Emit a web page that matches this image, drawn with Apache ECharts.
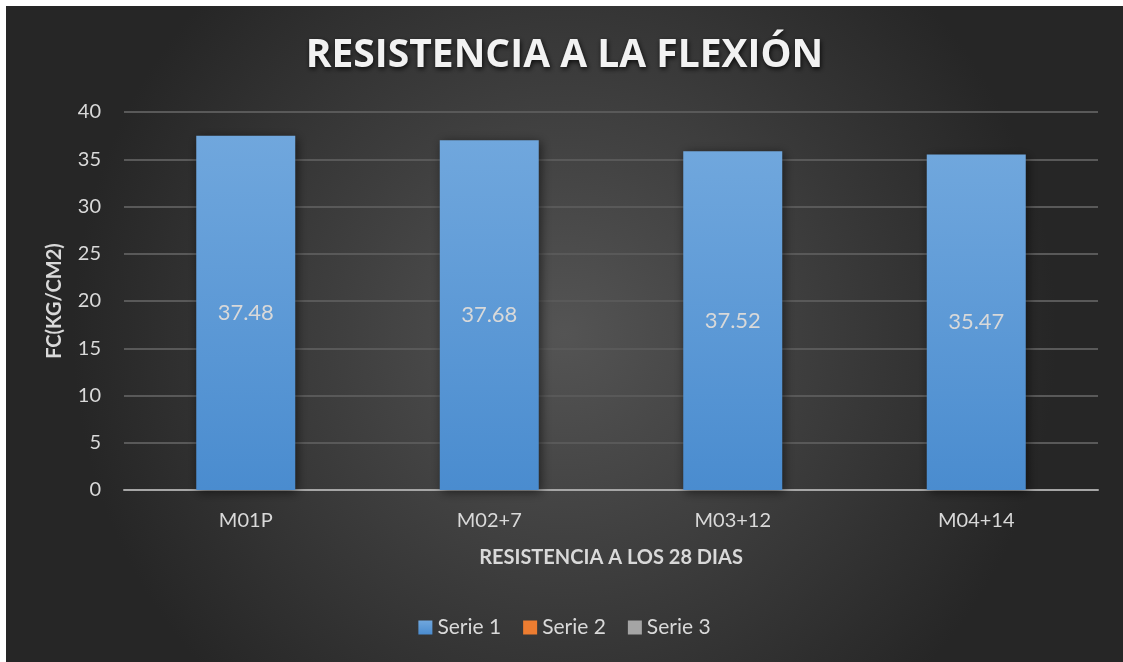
<!DOCTYPE html>
<html>
<head>
    <meta charset="utf-8">
    <script src="https://cdn.jsdelivr.net/npm/echarts@6/dist/echarts.min.js"></script>
    <style>
        html, body { margin: 0; padding: 0; background: #fff; }
        #main { position: absolute; left: 6px; top: 6px; width: 1117px; height: 656px; }
    </style>
</head>
<body>
<div id="main"></div>
<script type="text/javascript">
    // datos
    var categorias = ['M01P', 'M02+7', 'M03+12', 'M04+14'];
    var serie1 = [37.48, 37.0, 35.85, 35.5];
    var etiquetas = ['37.48', '37.68', '37.52', '35.47'];
    var serie2 = [];
    var serie3 = [];

    var textoClaro = '#d9d9d9';
    var myChart = echarts.init(document.getElementById('main'));

    var opt = {
        backgroundColor: {
            type: 'radial', x: 0.5, y: 0.5, r: 0.75,
            colorStops: [
                {offset: 0, color: '#545454'},
                {offset: 1, color: '#262626'}
            ]
        },
        title: {
            text: 'RESISTENCIA A LA FLEXIÓN',
            left: 'center',
            top: 25,
            textStyle: {
                fontFamily: 'Open Sans',
                fontWeight: 'bold',
                fontSize: 39,
                color: '#f2f2f2',
                textShadowColor: 'rgba(0,0,0,0.8)',
                textShadowBlur: 5,
                textShadowOffsetX: 1,
                textShadowOffsetY: 2
            }
        },
        legend: {
            bottom: 19,
            left: 'center',
            itemWidth: 14,
            itemHeight: 14,
            itemGap: 22,
            itemTextGap: 6,
            icon: 'rect',
            textStyle: {fontFamily: 'Lato', fontSize: 21, color: textoClaro},
            data: ['Serie 1', 'Serie 2', 'Serie 3']
        },
        grid: {left: 118, right: 25, top: 106, bottom: 172},
        xAxis: {
            type: 'category',
            data: categorias,
            name: 'RESISTENCIA A LOS 28 DIAS',
            nameLocation: 'middle',
            nameGap: 58,
            nameTextStyle: {fontFamily: 'Lato', fontWeight: 'bold', fontSize: 20, color: textoClaro},
            axisLine: {lineStyle: {color: '#a6a6a6', width: 2}},
            axisTick: {show: false},
            axisLabel: {fontFamily: 'Lato', fontSize: 20, color: textoClaro, margin: 21}
        },
        yAxis: {
            type: 'value',
            min: 0,
            max: 40,
            interval: 5,
            name: 'FC(KG/CM2)',
            nameLocation: 'middle',
            nameGap: 59,
            nameTextStyle: {fontFamily: 'Lato', fontWeight: 'bold', fontSize: 20, color: textoClaro},
            axisLine: {show: false},
            axisTick: {show: false},
            axisLabel: {fontFamily: 'Lato', fontSize: 20, color: textoClaro, margin: 23},
            splitLine: {lineStyle: {color: '#595959', width: 2}}
        },
        series: [
            {
                name: 'Serie 1',
                type: 'bar',
                barWidth: 99,
                barGap: '0%',
                data: serie1,
                itemStyle: {
                    color: {
                        type: 'linear', x: 0, y: 0, x2: 0, y2: 1,
                        colorStops: [
                            {offset: 0, color: '#70a7dd'},
                            {offset: 1, color: '#4a8ccf'}
                        ]
                    },
                    shadowColor: 'rgba(0,0,0,0.55)',
                    shadowBlur: 10,
                    shadowOffsetX: 2,
                    shadowOffsetY: 2
                },
                label: {
                    show: true,
                    position: 'inside',
                    fontFamily: 'Lato',
                    fontSize: 22,
                    color: textoClaro,
                    formatter: function (p) { return etiquetas[p.dataIndex]; }
                }
            },
            {name: 'Serie 2', type: 'bar', data: serie2, itemStyle: {color: '#ed7d31'}},
            {name: 'Serie 3', type: 'bar', data: serie3, itemStyle: {color: '#a5a5a5'}}
        ]
    };

    myChart.setOption(opt);
</script>
</body>
</html>
